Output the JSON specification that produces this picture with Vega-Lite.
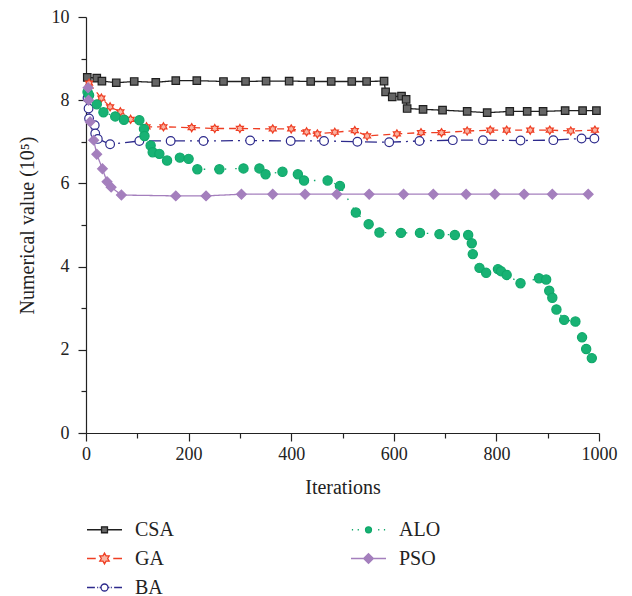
{
  "$schema": "https://vega.github.io/schema/vega-lite/v6.json",
  "width": 513,
  "height": 416,
  "autosize": {"type": "none"},
  "padding": {"left": 86, "top": 17, "right": 33, "bottom": 163},
  "background": "white",
  "config": {
    "view": {"stroke": null},
    "font": "Liberation Serif",
    "axis": {
      "grid": false,
      "domainColor": "#222",
      "tickColor": "#222",
      "labelColor": "#222",
      "titleColor": "#222",
      "labelFont": "Liberation Serif",
      "titleFont": "Liberation Serif",
      "labelFontSize": 18,
      "titleFontSize": 20,
      "titleFontWeight": "normal",
      "domainWidth": 1.2,
      "tickWidth": 1.2
    },
    "legend": {
      "labelFont": "Liberation Serif",
      "labelFontSize": 20,
      "labelColor": "#222"
    }
  },
  "data": {
    "values": [
      {"algo": "CSA", "x": 2.5, "y": 8.55}, {"algo": "CSA", "x": 21, "y": 8.53}, {"algo": "CSA", "x": 31, "y": 8.46}, {"algo": "CSA", "x": 59, "y": 8.42}, {"algo": "CSA", "x": 94, "y": 8.45}, {"algo": "CSA", "x": 136, "y": 8.43}, {"algo": "CSA", "x": 175, "y": 8.47}, {"algo": "CSA", "x": 216, "y": 8.47}, {"algo": "CSA", "x": 268, "y": 8.45}, {"algo": "CSA", "x": 311, "y": 8.45}, {"algo": "CSA", "x": 351, "y": 8.46}, {"algo": "CSA", "x": 396, "y": 8.46}, {"algo": "CSA", "x": 438, "y": 8.45}, {"algo": "CSA", "x": 478, "y": 8.45}, {"algo": "CSA", "x": 518, "y": 8.45}, {"algo": "CSA", "x": 547, "y": 8.45}, {"algo": "CSA", "x": 581, "y": 8.46}, {"algo": "CSA", "x": 584, "y": 8.20}, {"algo": "CSA", "x": 597, "y": 8.08}, {"algo": "CSA", "x": 615, "y": 8.10}, {"algo": "CSA", "x": 624, "y": 8.02}, {"algo": "CSA", "x": 626, "y": 7.80}, {"algo": "CSA", "x": 657, "y": 7.78}, {"algo": "CSA", "x": 695, "y": 7.76}, {"algo": "CSA", "x": 743, "y": 7.73}, {"algo": "CSA", "x": 782, "y": 7.70}, {"algo": "CSA", "x": 826, "y": 7.73}, {"algo": "CSA", "x": 860, "y": 7.73}, {"algo": "CSA", "x": 891, "y": 7.73}, {"algo": "CSA", "x": 934, "y": 7.75}, {"algo": "CSA", "x": 968, "y": 7.75}, {"algo": "CSA", "x": 995, "y": 7.75},
      {"algo": "GA", "x": 6, "y": 8.41}, {"algo": "GA", "x": 30, "y": 8.05}, {"algo": "GA", "x": 47, "y": 7.84}, {"algo": "GA", "x": 67, "y": 7.72}, {"algo": "GA", "x": 87, "y": 7.54}, {"algo": "GA", "x": 118, "y": 7.36}, {"algo": "GA", "x": 151, "y": 7.36}, {"algo": "GA", "x": 206, "y": 7.34}, {"algo": "GA", "x": 251, "y": 7.32}, {"algo": "GA", "x": 300, "y": 7.32}, {"algo": "GA", "x": 364, "y": 7.31}, {"algo": "GA", "x": 400, "y": 7.31}, {"algo": "GA", "x": 430, "y": 7.24}, {"algo": "GA", "x": 451, "y": 7.19}, {"algo": "GA", "x": 485, "y": 7.23}, {"algo": "GA", "x": 524, "y": 7.27}, {"algo": "GA", "x": 548, "y": 7.14}, {"algo": "GA", "x": 606, "y": 7.19}, {"algo": "GA", "x": 653, "y": 7.22}, {"algo": "GA", "x": 693, "y": 7.22}, {"algo": "GA", "x": 743, "y": 7.26}, {"algo": "GA", "x": 788, "y": 7.28}, {"algo": "GA", "x": 820, "y": 7.28}, {"algo": "GA", "x": 866, "y": 7.28}, {"algo": "GA", "x": 904, "y": 7.28}, {"algo": "GA", "x": 945, "y": 7.26}, {"algo": "GA", "x": 992, "y": 7.28},
      {"algo": "BA", "x": 3, "y": 8.05}, {"algo": "BA", "x": 5, "y": 7.80}, {"algo": "BA", "x": 6, "y": 7.56}, {"algo": "BA", "x": 17, "y": 7.40}, {"algo": "BA", "x": 18, "y": 7.20}, {"algo": "BA", "x": 23, "y": 7.07}, {"algo": "BA", "x": 47, "y": 6.94}, {"algo": "BA", "x": 104, "y": 7.02}, {"algo": "BA", "x": 165, "y": 7.02}, {"algo": "BA", "x": 229, "y": 7.02}, {"algo": "BA", "x": 320, "y": 7.03}, {"algo": "BA", "x": 399, "y": 7.02}, {"algo": "BA", "x": 464, "y": 7.02}, {"algo": "BA", "x": 529, "y": 7.00}, {"algo": "BA", "x": 591, "y": 6.99}, {"algo": "BA", "x": 650, "y": 7.02}, {"algo": "BA", "x": 715, "y": 7.04}, {"algo": "BA", "x": 774, "y": 7.04}, {"algo": "BA", "x": 847, "y": 7.03}, {"algo": "BA", "x": 911, "y": 7.04}, {"algo": "BA", "x": 966, "y": 7.08}, {"algo": "BA", "x": 991, "y": 7.08},
      {"algo": "ALO", "x": 3, "y": 8.20}, {"algo": "ALO", "x": 6, "y": 8.12}, {"algo": "ALO", "x": 21, "y": 7.90}, {"algo": "ALO", "x": 34, "y": 7.71}, {"algo": "ALO", "x": 57, "y": 7.61}, {"algo": "ALO", "x": 74, "y": 7.53}, {"algo": "ALO", "x": 104, "y": 7.52}, {"algo": "ALO", "x": 113, "y": 7.31}, {"algo": "ALO", "x": 114, "y": 7.14}, {"algo": "ALO", "x": 126, "y": 6.91}, {"algo": "ALO", "x": 130, "y": 6.75}, {"algo": "ALO", "x": 143, "y": 6.71}, {"algo": "ALO", "x": 158, "y": 6.55}, {"algo": "ALO", "x": 183, "y": 6.62}, {"algo": "ALO", "x": 200, "y": 6.59}, {"algo": "ALO", "x": 217, "y": 6.34}, {"algo": "ALO", "x": 260, "y": 6.34}, {"algo": "ALO", "x": 307, "y": 6.36}, {"algo": "ALO", "x": 338, "y": 6.36}, {"algo": "ALO", "x": 350, "y": 6.22}, {"algo": "ALO", "x": 383, "y": 6.28}, {"algo": "ALO", "x": 413, "y": 6.22}, {"algo": "ALO", "x": 425, "y": 6.07}, {"algo": "ALO", "x": 471, "y": 6.07}, {"algo": "ALO", "x": 495, "y": 5.94}, {"algo": "ALO", "x": 526, "y": 5.30}, {"algo": "ALO", "x": 551, "y": 5.02}, {"algo": "ALO", "x": 572, "y": 4.82}, {"algo": "ALO", "x": 614, "y": 4.81}, {"algo": "ALO", "x": 651, "y": 4.81}, {"algo": "ALO", "x": 689, "y": 4.78}, {"algo": "ALO", "x": 719, "y": 4.76}, {"algo": "ALO", "x": 745, "y": 4.76}, {"algo": "ALO", "x": 752, "y": 4.56}, {"algo": "ALO", "x": 754, "y": 4.30}, {"algo": "ALO", "x": 767, "y": 3.97}, {"algo": "ALO", "x": 780, "y": 3.85}, {"algo": "ALO", "x": 803, "y": 3.94}, {"algo": "ALO", "x": 809, "y": 3.89}, {"algo": "ALO", "x": 820, "y": 3.80}, {"algo": "ALO", "x": 847, "y": 3.60}, {"algo": "ALO", "x": 883, "y": 3.72}, {"algo": "ALO", "x": 897, "y": 3.69}, {"algo": "ALO", "x": 903, "y": 3.42}, {"algo": "ALO", "x": 909, "y": 3.25}, {"algo": "ALO", "x": 917, "y": 2.97}, {"algo": "ALO", "x": 932, "y": 2.72}, {"algo": "ALO", "x": 954, "y": 2.68}, {"algo": "ALO", "x": 967, "y": 2.30}, {"algo": "ALO", "x": 975, "y": 2.02}, {"algo": "ALO", "x": 986, "y": 1.80},
      {"algo": "PSO", "x": 4, "y": 8.30}, {"algo": "PSO", "x": 5, "y": 8.00}, {"algo": "PSO", "x": 8, "y": 7.48}, {"algo": "PSO", "x": 15, "y": 7.04}, {"algo": "PSO", "x": 21, "y": 6.70}, {"algo": "PSO", "x": 32, "y": 6.35}, {"algo": "PSO", "x": 41, "y": 6.04}, {"algo": "PSO", "x": 49, "y": 5.91}, {"algo": "PSO", "x": 69, "y": 5.72}, {"algo": "PSO", "x": 175, "y": 5.70}, {"algo": "PSO", "x": 234, "y": 5.70}, {"algo": "PSO", "x": 303, "y": 5.74}, {"algo": "PSO", "x": 364, "y": 5.74}, {"algo": "PSO", "x": 427, "y": 5.74}, {"algo": "PSO", "x": 489, "y": 5.74}, {"algo": "PSO", "x": 552, "y": 5.74}, {"algo": "PSO", "x": 619, "y": 5.74}, {"algo": "PSO", "x": 677, "y": 5.74}, {"algo": "PSO", "x": 741, "y": 5.74}, {"algo": "PSO", "x": 797, "y": 5.74}, {"algo": "PSO", "x": 854, "y": 5.74}, {"algo": "PSO", "x": 909, "y": 5.74}, {"algo": "PSO", "x": 979, "y": 5.74}
    ]
  },
  "encoding": {
    "x": {
      "field": "x", "type": "quantitative",
      "scale": {"domain": [0, 1000], "nice": false},
      "axis": {
        "title": "Iterations",
        "values": [0, 100, 200, 300, 400, 500, 600, 700, 800, 900, 1000],
        "labelExpr": "datum.value % 200 === 0 ? datum.label : ''",
        "format": "d",
        "tickSize": {"condition": {"test": "datum.value % 200 === 0", "value": 8}, "value": 5},
        "labelPadding": 4,
        "titlePadding": 14,
        "labelFlush": false,
        "labelOverlap": false
      }
    },
    "y": {
      "field": "y", "type": "quantitative",
      "scale": {"domain": [0, 10], "nice": false},
      "axis": {
        "title": "Numerical value (10⁵)",
        "values": [0, 1, 2, 3, 4, 5, 6, 7, 8, 9, 10],
        "labelExpr": "datum.value % 2 === 0 ? datum.label : ''",
        "tickSize": {"condition": {"test": "datum.value % 2 === 0", "value": 8}, "value": 5},
        "labelPadding": 9,
        "titlePadding": 14,
        "labelFlush": false,
        "labelOverlap": false
      }
    }
  },
  "layer": [
    {
      "mark": {"type": "line", "strokeWidth": 1.3},
      "encoding": {
        "stroke": {
          "field": "algo", "type": "nominal",
          "scale": {"domain": ["CSA", "GA", "BA", "ALO", "PSO"], "range": ["#1f1f1f", "#ef3e23", "#2d2a8c", "#0fa86a", "#a47fbd"]},
          "legend": {
            "title": null,
            "orient": "none",
            "legendX": 0,
            "legendY": 494,
            "columns": 2,
            "columnPadding": 174,
            "rowPadding": 0,
            "symbolSize": 400,
            "symbolStrokeWidth": 1.3,
            "labelOffset": 12,
            "symbolType": "M-1,0L1,0",
            "encode": {
              "labels": {
                "update": {"lineHeight": {"value": 14}}
              },
              "symbols": {
                "update": {
                  "shape": {"signal": "datum.value === 'CSA' ? 'M-1,0L-0.17,0M0.17,0L1,0M-0.17,-0.17L0.17,-0.17L0.17,0.17L-0.17,0.17Z' : datum.value === 'GA' ? 'M-1,0L-0.5,0M0.5,0L1,0M0,-0.31L0.09,-0.155L0.27,-0.155L0.18,0L0.27,0.155L0.09,0.155L0,0.31L-0.09,0.155L-0.27,0.155L-0.18,0L-0.27,-0.155L-0.09,-0.155Z' : datum.value === 'BA' ? 'M-1,0L-0.55,0M-0.42,0L-0.36,0M-0.2,0L-0.28,0M0.2,0L0.28,0M0.36,0L0.42,0M0.55,0L1,0M0.2,0A0.2,0.2,0,1,1,-0.2,0A0.2,0.2,0,1,1,0.2,0Z' : datum.value === 'ALO' ? 'M-0.95,0L-0.88,0M-0.62,0L-0.55,0M0.55,0L0.62,0M0.88,0L0.95,0M0.17,0A0.17,0.17,0,1,1,-0.17,0A0.17,0.17,0,1,1,0.17,0Z' : 'M-1,0L1,0M0,-0.28L0.28,0L0,0.28L-0.28,0Z'"},
                  "fill": {"signal": "datum.value === 'CSA' ? '#666666' : datum.value === 'GA' ? '#f9b3a2' : datum.value === 'BA' ? '#ffffff' : datum.value === 'ALO' ? '#18b274' : '#a47fbd'"},
                  "fillOpacity": {"value": 1},
                  "strokeDash": {"value": []},
                  "strokeWidth": {"value": 1.3},
                  "size": {"value": 1225}
                }
              }
            }
          }
        },
        "strokeDash": {
          "field": "algo", "type": "nominal",
          "scale": {"domain": ["PSO", "ALO", "BA", "GA", "CSA"], "range": [[1, 0], [1.5, 9], [12, 5, 2, 5], [7, 5], [1, 0]]},
          "legend": null
        }
      }
    },
    {
      "mark": {"type": "point", "filled": false, "strokeWidth": 1.2, "opacity": 1},
      "encoding": {
        "stroke": {"field": "algo", "type": "nominal"},
        "fill": {
          "field": "algo", "type": "nominal",
          "scale": {"domain": ["PSO", "ALO", "BA", "GA", "CSA"], "range": ["#a47fbd", "#18b274", "#ffffff", "#f9b3a2", "#666666"]},
          "legend": null
        },
        "shape": {
          "field": "algo", "type": "nominal",
          "scale": {"domain": ["PSO", "ALO", "BA", "GA", "CSA"], "range": ["diamond", "circle", "circle", "M0,-1L0.289,-0.5L0.866,-0.5L0.577,0L0.866,0.5L0.289,0.5L0,1L-0.289,0.5L-0.866,0.5L-0.577,0L-0.866,-0.5L-0.289,-0.5Z", "square"]},
          "legend": null
        },
        "size": {
          "field": "algo", "type": "nominal",
          "scale": {"domain": ["PSO", "ALO", "BA", "GA", "CSA"], "range": [95, 56, 52, 121, 42]},
          "legend": null
        }
      }
    }
  ]
}
